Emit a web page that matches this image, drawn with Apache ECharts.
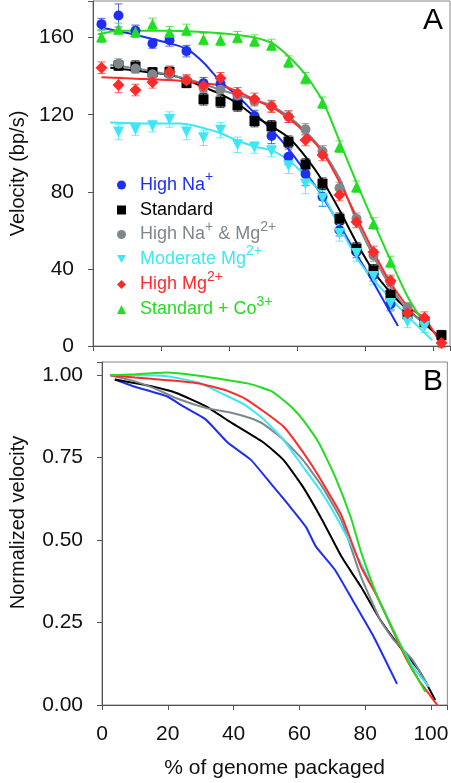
<!DOCTYPE html>
<html><head><meta charset="utf-8">
<script src="https://cdn.jsdelivr.net/npm/echarts@6/dist/echarts.min.js"></script>
<style>html,body{margin:0;padding:0;background:#fff}#c{width:451px;height:783px}</style>
</head><body><div id="c"></div>
<script>
// ---------- Panel A: measured velocities (bp/s) ----------
const xPts = [2.5,7.5,12.5,17.5,22.5,27.5,32.5,37.5,42.5,47.5,52.5,57.5,62.5,67.5,72.5,77.5,82.5,87.5,92.5,97.5,102.5];
const highNa   = [167,171.5,163.5,157,158.6,153,136.3,136,128,119.3,109,98.2,89.2,77.4,60.1,48.8,36.7,21.7,null,null,null];
const standard = [null,145.5,145,142,142.2,136.5,128,126.8,124.8,116.7,114,106,94.2,84.2,66,50.6,39.3,26.5,16.5,12.5,5.6];
const highNaMg = [null,146.5,144,141,141,138,134,133,130,127,124.5,119,112.4,101,82,66,47,33,20,12,null];
const modMg    = [null,111,112.3,114.1,117.5,111,108,112,104.4,103,101.2,93.5,84,76.6,58.4,48,36,22,12.5,10,null];
const highMg   = [144.4,135.4,132.8,136.8,142.3,137.7,135,138.9,131.1,128.2,124.2,119,106.9,99.1,78.3,64.4,48.8,33.8,17,14.7,1.6];
const stdCo    = [160.5,164.5,163.1,167.1,162.8,164,159.2,158.8,160.2,158.4,156.2,147.5,138.9,126.2,103.4,82.6,63.6,43.6,null,null,null];

const errHighNa   = [3,6,3,2.5,3,3,3,3,3,3,4,4,6,5,3,3,3,3,null,null,null];
const errStandard = [null,2.5,3,2.5,2.5,2.5,3,3,3,3,3,3,3,3,3,3,3,3,2.5,2.5,2.5];
const errHighNaMg = [null,2.5,2.5,2.5,2.5,2.5,2.5,2.5,2.5,2.5,3,3,3,3,3,3,3,3,2.5,2.5,null];
const errModMg    = [null,4,3,3,4,4,4,4,4,3,3,4,5,4,4,4,4,4,3,3,null];
const errHighMg   = [3,4,3,3,3,3,3,3,3,3,3,3,3,3,3,3,3,3,3,3,2.5];
const errStdCo    = [3,3,3,3,3,3,3,3,3,3,3,3,3,3,3,3,3,3,null,null,null];

// fitted curves panel A  [x, velocity]
const fitHighNa = [[3.4,164.9],[12.6,161.4],[22.6,157],[27.7,154],[32.7,146.7],[37.7,136.8],[42.7,129.4],[47.7,120.5],[52.7,112],[57.6,102],[62.6,90],[67.7,77],[72.8,62],[77.7,47],[82.6,32.5],[89.7,10.4]];
const fitStandard = [[5.1,144.4],[12.6,142.9],[22.6,140.6],[27.7,138],[32.7,134.2],[37.7,130.6],[42.7,125.6],[47.7,119],[52.7,113.8],[57.6,108],[62.6,98],[67.7,85.2],[72.8,69.5],[77.7,53],[82.6,38.5],[87.6,27.5],[92.7,18.5],[97.6,11.6],[102.9,3]];
const fitHighNaMg = [[5.1,145.8],[12.6,144.1],[27.7,138.5],[37.7,132.8],[47.7,127.6],[52.7,124.5],[57.6,119],[62.6,111.2],[67.7,101],[72.8,86],[77.7,64],[82.6,46.2],[87.6,30.6],[92.7,18.5],[97.6,11.6]];
const fitModMg = [[5.1,116],[16.7,115.5],[25.6,115.5],[36.4,111.2],[42.6,106.5],[47.7,103.4],[52.6,101.5],[57.5,96.5],[62.6,88],[67.7,78],[72.8,61],[77.7,45.4],[82.6,34.1],[87.6,24.6],[92.7,15.1],[99.8,3]];
const fitHighMg = [[2.5,139.4],[12.6,138.7],[22.6,138],[32.7,136.3],[37.7,135],[42.7,131.9],[47.7,127.6],[52.7,123.8],[57.6,118.1],[62.6,110.3],[67.7,100],[72.8,84],[77.7,66.2],[82.6,48.5],[87.6,32.4],[92.7,20.3],[97.6,14.2],[102.3,1.2]];
const fitStdCo = [[1.5,161.8],[7.6,163.6],[22.6,163.6],[37.7,162.3],[47.7,160],[52.7,157.1],[57.6,150.1],[62.6,140.6],[67.7,126.7],[72.8,105],[77.7,84],[82.6,64],[87.6,44],[92.7,25],[96.9,13]];

// ---------- Panel B: normalized velocity [x, v/v0] ----------
const normHighNa = [[3.9,0.987],[10,0.965],[19.7,0.936],[24.6,0.906],[31.5,0.866],[38.3,0.795],[45.2,0.744],[51.2,0.673],[57.1,0.602],[62,0.54],[65,0.481],[70.8,0.41],[76.7,0.309],[82.6,0.207],[89.7,0.064]];
const normStandard = [[3.9,0.987],[14.7,0.967],[22.6,0.946],[31.5,0.906],[39.3,0.856],[49.2,0.795],[55.1,0.744],[61,0.663],[66.9,0.562],[72.8,0.45],[78.7,0.359],[84.6,0.258],[90.5,0.177],[96.3,0.106],[101.3,0.015]];
const normHighNaMg = [[2.5,1.0],[9.8,0.982],[16,0.96],[22.6,0.93],[31.5,0.901],[39.3,0.886],[45,0.87],[49.2,0.851],[55.1,0.805],[61,0.744],[66.9,0.663],[72.8,0.56],[78.7,0.39],[84.6,0.258],[88.5,0.2],[94.4,0.137],[99.3,0.056]];
const normModMg = [[2.5,1.0],[10,1.0],[19.7,0.997],[29.5,0.977],[37.4,0.94],[43.3,0.911],[49.2,0.866],[55.1,0.805],[61,0.724],[66.9,0.643],[71.8,0.56],[78.7,0.43],[84.6,0.309],[90.5,0.187],[95,0.11],[99.3,0.056]];
const normHighMg = [[2.5,1.0],[10,0.993],[19.7,0.985],[29.5,0.975],[37.4,0.955],[43.3,0.93],[49.2,0.89],[55.1,0.845],[59.1,0.795],[64,0.724],[68.9,0.643],[72.8,0.575],[78.7,0.42],[83.6,0.33],[88.5,0.225],[92.5,0.14],[96.3,0.076],[102.3,-0.005]];
const normStdCo = [[2.5,1.0],[10,1.003],[19.7,1.008],[29.5,0.998],[39.3,0.983],[45.2,0.973],[51.2,0.953],[55.1,0.925],[58,0.9],[61,0.866],[65.9,0.795],[70.8,0.694],[75.7,0.567],[78.7,0.466],[83.6,0.332],[88.5,0.228],[93.4,0.127],[98.3,0.04]];

const names = ['High Na+','Standard','High Na+ & Mg2+','Moderate Mg2+','High Mg2+','Standard + Co3+'];
const FONT = 'Liberation Sans, Arial, Helvetica, sans-serif';

const defs = [
  {name:names[0], color:'#1e2ff0', sym:'circle', rot:0, size:10, icon:'circle', vals:highNa, errs:errHighNa, fit:fitHighNa, norm:normHighNa, label:'High Na{s|+}'},
  {name:names[1], color:'#000000', sym:'rect', rot:0, size:10, icon:'rect', vals:standard, errs:errStandard, fit:fitStandard, norm:normStandard, label:'Standard'},
  {name:names[2], color:'#7f878c', sym:'circle', rot:0, size:10, icon:'circle', vals:highNaMg, errs:errHighNaMg, fit:fitHighNaMg, norm:normHighNaMg, label:'High Na{s|+} & Mg{s|2+}'},
  {name:names[3], color:'#3fe6f6', sym:'triangle', rot:180, size:11, icon:'path://M0,0 L10,0 L5,9 Z', vals:modMg, errs:errModMg, fit:fitModMg, norm:normModMg, label:'Moderate Mg{s|2+}'},
  {name:names[4], color:'#ff2a2a', sym:'diamond', rot:0, size:12, icon:'diamond', vals:highMg, errs:errHighMg, fit:fitHighMg, norm:normHighMg, label:'High Mg{s|2+}'},
  {name:names[5], color:'#22dd22', sym:'triangle', rot:0, size:11, icon:'triangle', vals:stdCo, errs:errStdCo, fit:fitStdCo, norm:normStdCo, label:'Standard + Co{s|3+}'}
];

function errRender(color){
  return function(params, api){
    const x = api.value(0), y = api.value(1), e = api.value(2);
    if (isNaN(y) || isNaN(e)) return;
    const t = api.coord([x, y + e]), b = api.coord([x, y - e]);
    const hw = 4;
    const st = {stroke: color, lineWidth: 1, opacity: 0.75};
    return {type:'group', children:[
      {type:'line', shape:{x1:t[0],y1:t[1],x2:b[0],y2:b[1]}, style:st},
      {type:'line', shape:{x1:t[0]-hw,y1:t[1],x2:t[0]+hw,y2:t[1]}, style:st},
      {type:'line', shape:{x1:b[0]-hw,y1:b[1],x2:b[0]+hw,y2:b[1]}, style:st}
    ]};
  };
}

const series = [];
defs.forEach(d => {
  const pts = [];
  xPts.forEach((x,i) => { if (d.vals[i] != null) pts.push([x, d.vals[i], d.errs[i] == null ? 0 : d.errs[i]]); });
  series.push({type:'custom', name:d.name+'_err', xAxisIndex:0, yAxisIndex:0, renderItem:errRender(d.color), data:pts, encode:{x:0,y:1}, z:2, silent:true});
});
defs.forEach(d => {
  series.push({type:'line', name:d.name+'_fit', xAxisIndex:0, yAxisIndex:0, data:d.fit, showSymbol:false, smooth:0.2, lineStyle:{color:d.color, width:2}, z:3, silent:true});
});
defs.forEach(d => {
  const pts = [];
  xPts.forEach((x,i) => { if (d.vals[i] != null) pts.push([x, d.vals[i]]); });
  series.push({type:'scatter', name:d.name, xAxisIndex:0, yAxisIndex:0, data:pts, symbol:d.sym, symbolRotate:d.rot, symbolSize:d.size, itemStyle:{color:d.color, opacity:1}, z:4});
});
defs.forEach(d => {
  series.push({type:'line', name:d.name+'_norm', xAxisIndex:1, yAxisIndex:1, data:d.norm, showSymbol:false, smooth:0.15, lineStyle:{color:d.color, width:2}, z:3, silent:true});
});

const rowY = [184.5, 210, 234, 258.5, 284, 309];
const legends = defs.map((d,i) => ({
  data:[{name:d.name, icon:d.icon}],
  left:117, top:rowY[i]-14, padding:0, itemWidth:9, itemHeight:9,
  selectedMode:false,
  formatter: () => d.label,
  textStyle:{color:d.color, fontSize:18, fontFamily:FONT, lineHeight:28, padding:[0,0,0,9],
    rich:{s:{fontSize:14, fontFamily:FONT, color:d.color, lineHeight:28, padding:[0,0,15,0]}}}
}));

const axisLine = {show:true, lineStyle:{color:'#555', width:1}};
const tick = {show:true, inside:false, length:5, lineStyle:{color:'#555'}};
function hideOff(step, dec){
  return v => (Math.abs(v/step - Math.round(v/step)) > 1e-6) ? '' : (dec ? v.toFixed(dec) : String(v));
}

const option = {
  backgroundColor:'#fff',
  animation:false,
  grid:[
    {left:93, right:1, top:1, bottom:437, show:true, borderColor:'#888', borderWidth:1},
    {left:93, right:1, top:362, bottom:78, show:true, borderColor:'#888', borderWidth:1}
  ],
  xAxis:[
    {type:'value', gridIndex:0, min:0, max:105, interval:20, axisLine, axisTick:tick, axisLabel:{show:false}, splitLine:{show:false}},
    {type:'value', gridIndex:1, min:0, max:105, interval:20, axisLine, axisTick:tick,
     axisLabel:{fontSize:21, color:'#111', fontFamily:FONT, margin:19, formatter:hideOff(20,0)}, splitLine:{show:false},
     name:'% of genome packaged', nameLocation:'middle', nameGap:53, nameTextStyle:{fontSize:21, color:'#111', fontFamily:FONT}}
  ],
  yAxis:[
    {type:'value', gridIndex:0, min:0, max:179, interval:40, axisLine, axisTick:tick,
     axisLabel:{fontSize:21, color:'#111', fontFamily:FONT, margin:19, formatter:hideOff(40,0)}, splitLine:{show:false},
     name:'Velocity (bp/s)', nameLocation:'middle', nameGap:64, nameTextStyle:{fontSize:20, color:'#111', fontFamily:FONT}},
    {type:'value', gridIndex:1, min:0, max:1.04, interval:0.25, axisLine, axisTick:tick,
     axisLabel:{fontSize:21, color:'#111', fontFamily:FONT, margin:19, formatter:hideOff(0.25,2)}, splitLine:{show:false},
     name:'Normalized velocity', nameLocation:'middle', nameGap:74, nameTextStyle:{fontSize:20, color:'#111', fontFamily:FONT, padding:[0,0,0,22]}}
  ],
  legend: legends,
  graphic:[
    {type:'text', right:8, top:6, style:{text:'A', fontSize:30, fontFamily:FONT, fill:'#000'}},
    {type:'text', right:8, top:367, style:{text:'B', fontSize:30, fontFamily:FONT, fill:'#000'}}
  ],
  series
};
const chart = echarts.init(document.getElementById('c'), null, {renderer:'canvas'});
chart.setOption(option);
</script>
</body></html>
